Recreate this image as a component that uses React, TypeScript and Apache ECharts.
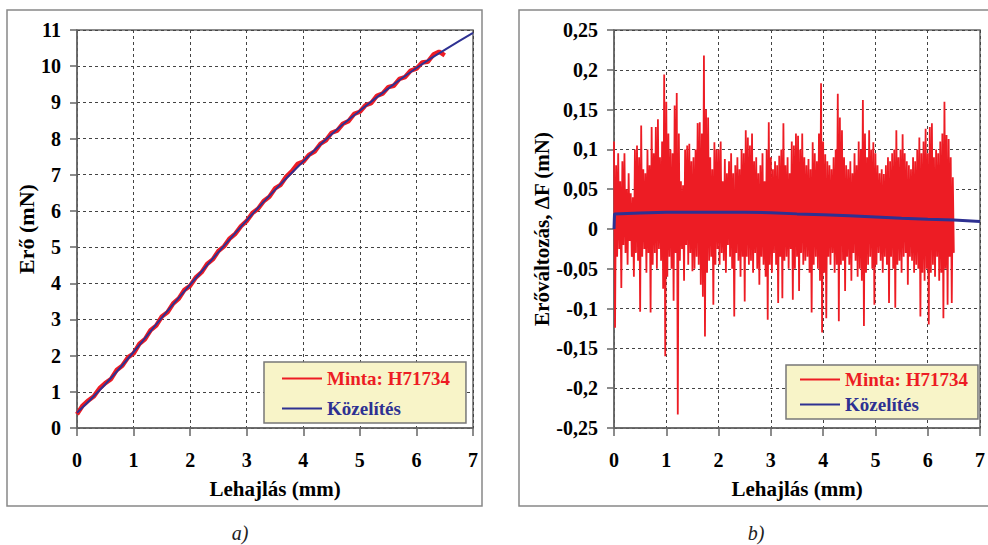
import React, { useEffect, useRef } from "react";
import * as echarts from "echarts";

// ---------- data ----------
const xTicksMax = 7;
const forceStep = 0.1; // mm, sampling of the measured force curve
const forceMeasured = [
  0.38, 0.62, 0.76, 0.88, 1.10, 1.24, 1.35, 1.60, 1.72, 1.95,
  2.06, 2.32, 2.45, 2.70, 2.83, 3.08, 3.20, 3.44, 3.58, 3.82,
  3.93, 4.16, 4.30, 4.53, 4.66, 4.89, 5.02, 5.24, 5.37, 5.58,
  5.72, 5.94, 6.06, 6.27, 6.39, 6.62, 6.72, 6.95, 7.10, 7.30,
  7.36, 7.55, 7.64, 7.85, 7.95, 8.16, 8.22, 8.41, 8.48, 8.68,
  8.74, 8.92, 8.98, 9.18, 9.24, 9.42, 9.46, 9.65, 9.70, 9.88,
  9.93, 10.10, 10.12, 10.32, 10.40, 10.30,
];
const fitX = [0, 0.5, 1, 1.5, 2, 2.5, 3, 3.5, 4, 4.5, 5, 5.5, 6, 6.5, 7];
const fitY = [0.42, 1.21, 2.10, 3.05, 3.96, 4.86, 5.74, 6.58, 7.37, 8.12, 8.77, 9.38, 9.95, 10.45, 10.92];

const residStep = 0.02; // mm
// residuals in thousandths of mN
const residuals = [
  110, -124, 80, -35, 95, -25, 60, -74, 85, -20,
  95, -30, 50, -45, 70, -15, 45, -35, 40, -60,
  100, -30, 105, -40, 90, -104, 130, -35, 75, -25,
  70, -55, 100, -30, 80, -105, 128, -45, 95, -30,
  128, -50, 138, -25, 90, -40, 110, -75, 194, -160,
  160, -60, 120, -35, 100, -50, 95, -90, 155, -30,
  171, -233, 120, -40, 60, -25, 55, -65, 100, -20,
  105, -45, 107, -30, 85, -53, 90, -50, 100, -35,
  133, -45, 134, -70, 120, -85, 218, -135, 150, -55,
  140, -40, 90, -35, 75, -95, 109, -45, 100, -25,
  100, -45, 110, -30, 60, -40, 88, -55, 70, -20,
  85, -35, 95, -50, 70, -110, 80, -30, 90, -40,
  75, -60, 100, -35, 95, -91, 124, -35, 115, -45,
  105, -40, 120, -55, 85, -30, 90, -50, 70, -70,
  80, -35, 95, -45, 60, -60, 100, -114, 134, -45,
  90, -55, 75, -30, 85, -45, 80, -93, 92, -35,
  100, -87, 133, -40, 80, -35, 90, -50, 70, -25,
  110, -89, 105, -50, 120, -35, 117, -78, 100, -30,
  120, -45, 90, -40, 80, -35, 88, -55, 75, -105,
  109, -45, 95, -35, 85, -50, 120, -65, 183, -130,
  110, -55, 94, -112, 85, -35, 80, -45, 75, -30,
  90, -55, 100, -45, 170, -116, 140, -45, 124, -40,
  90, -78, 80, -35, 75, -45, 85, -65, 70, -30,
  95, -40, 80, -60, 110, -50, 100, -65, 162, -122,
  120, -55, 90, -45, 124, -35, 100, -50, 109, -95,
  95, -45, 80, -30, 70, -40, 75, -55, 69, -35,
  80, -45, 90, -93, 85, -35, 95, -50, 100, -99,
  124, -45, 90, -40, 100, -55, 119, -35, 95, -30,
  85, -70, 80, -35, 75, -40, 90, -55, 85, -45,
  100, -50, 115, -110, 95, -55, 110, -65, 126, -50,
  95, -120, 128, -55, 133, -45, 90, -60, 100, -35,
  95, -65, 110, -55, 120, -112, 160, -50, 118, -95,
  113, -35, 90, -93, 65, -30,
];
const residFitX = [0, 0.01, 0.5, 1, 1.5, 2, 2.5, 3, 3.5, 4, 4.5, 5, 5.5, 6, 6.5, 7];
const residFitY = [0, 0.019, 0.020, 0.021, 0.021, 0.021, 0.021, 0.0205, 0.019, 0.0178, 0.0165, 0.015, 0.0135, 0.0122, 0.0112, 0.0093];

const legendLabels: Record<string, string> = {
  a1: "Minta: H71734",
  a2: "Közelítés",
  b1: "Minta: H71734",
  b2: "Közelítés",
};

// ---------- styles ----------
const RED = "#ed1c24";
const BLUE = "#2e3192";
const FONT = "Liberation Serif";
const AX = "#666";

function xAxisCfg(gridIndex: number) {
  return {
    gridIndex,
    type: "value",
    min: 0,
    max: xTicksMax,
    interval: 1,
    name: "Lehajlás (mm)",
    nameLocation: "middle",
    nameGap: 50,
    nameTextStyle: { fontFamily: FONT, fontWeight: "bold", fontSize: 21, color: "#000" },
    axisLine: { show: true, onZero: false, lineStyle: { color: AX, width: 1.5 } },
    axisTick: { show: true, length: 8, lineStyle: { color: AX, width: 1.5 } },
    axisLabel: { margin: 22, fontFamily: FONT, fontWeight: "bold", fontSize: 20, color: "#000" },
    splitLine: { show: true, lineStyle: { color: "#444", type: [3, 3], width: 1 } },
  };
}

export default function App() {
  const ref = useRef<HTMLDivElement>(null);
  useEffect(() => {
    document.body.style.margin = "0";
    const chart = echarts.init(ref.current!, null, { renderer: "svg" });

    const measuredData = forceMeasured.map((v, i) => [+(i * forceStep).toFixed(2), v]);
    const fitData = fitX.map((x, i) => [x, fitY[i]]);
    const residData = residuals.map((v, i) => [+(i * residStep).toFixed(2), v / 1000]);
    const residFitData = residFitX.map((x, i) => [x, residFitY[i]]);

    const legendCommon = {
      orient: "vertical",
      backgroundColor: "#f8f4c8",
      borderColor: "#777",
      borderWidth: 1.5,
      itemWidth: 40,
      itemHeight: 20,
      selectedMode: false,
      itemStyle: { color: "transparent", borderColor: "transparent", borderWidth: 0 },
      formatter: (n: string) => legendLabels[n],
      textStyle: { fontFamily: FONT, fontWeight: "bold", fontSize: 19 },
    };

    const yLabel = { fontFamily: FONT, fontWeight: "bold", fontSize: 20, color: "#000" };

    chart.setOption({
      animation: false,
      backgroundColor: "#fff",
      textStyle: { fontFamily: FONT },
      grid: [
        { left: 77, top: 30, width: 396, height: 398, show: true, borderColor: AX, borderWidth: 1.5 },
        { left: 614, top: 30, width: 373, height: 398, show: true, borderColor: AX, borderWidth: 1.5 },
      ],
      xAxis: [xAxisCfg(0), xAxisCfg(1)],
      yAxis: [
        {
          gridIndex: 0,
          type: "value",
          min: 0,
          max: 11,
          interval: 1,
          name: "Erő (mN)",
          nameLocation: "middle",
          nameGap: 39,
          nameTextStyle: { fontFamily: FONT, fontWeight: "bold", fontSize: 22, color: "#000" },
          axisLine: { show: true, lineStyle: { color: AX, width: 1.5 } },
          axisTick: { show: true, length: 7, lineStyle: { color: AX, width: 1.5 } },
          axisLabel: { ...yLabel, margin: 16 },
          splitLine: { show: true, lineStyle: { color: "#444", type: [3, 3], width: 1 } },
        },
        {
          gridIndex: 1,
          type: "value",
          min: -0.25,
          max: 0.25,
          interval: 0.05,
          name: "Erőváltozás, ΔF (mN)",
          nameLocation: "middle",
          nameGap: 59,
          nameTextStyle: { fontFamily: FONT, fontWeight: "bold", fontSize: 21, color: "#000" },
          axisLine: { show: true, lineStyle: { color: AX, width: 1.5 } },
          axisTick: { show: true, length: 7, lineStyle: { color: AX, width: 1.5 } },
          axisLabel: {
            ...yLabel,
            margin: 16,
            formatter: (v: number) => String(Math.round(v * 100) / 100).replace(".", ","),
          },
          splitLine: { show: true, lineStyle: { color: "#444", type: [3, 3], width: 1 } },
        },
      ],
      legend: [
        {
          ...legendCommon,
          left: 264,
          top: 362,
          padding: [7, 16, 5, 17],
          itemGap: 11,
          data: [
            { name: "a1", textStyle: { color: RED } },
            { name: "a2", textStyle: { color: BLUE } },
          ],
        },
        {
          ...legendCommon,
          left: 786,
          top: 365,
          padding: [5, 10, 5, 13],
          itemGap: 6,
          data: [
            { name: "b1", textStyle: { color: RED } },
            { name: "b2", textStyle: { color: BLUE } },
          ],
        },
      ],
      series: [
        {
          name: "a1",
          type: "line",
          xAxisIndex: 0,
          yAxisIndex: 0,
          data: measuredData,
          symbol: "none",
          lineStyle: { color: RED, width: 4.5 },
          itemStyle: { color: RED },
        },
        {
          name: "a2",
          type: "line",
          xAxisIndex: 0,
          yAxisIndex: 0,
          data: fitData,
          symbol: "none",
          smooth: true,
          lineStyle: { color: BLUE, width: 2 },
          itemStyle: { color: BLUE },
        },
        {
          name: "b1",
          type: "line",
          xAxisIndex: 1,
          yAxisIndex: 1,
          data: residData,
          symbol: "none",
          lineStyle: { color: RED, width: 1.8 },
          itemStyle: { color: RED },
        },
        {
          name: "b2",
          type: "line",
          xAxisIndex: 1,
          yAxisIndex: 1,
          data: residFitData,
          symbol: "none",
          lineStyle: { color: BLUE, width: 3 },
          itemStyle: { color: BLUE },
        },
      ],
      graphic: [
        {
          type: "rect",
          shape: { x: 7, y: 10, width: 475, height: 496 },
          style: { fill: "none", stroke: "#888", lineWidth: 1.5 },
          z: -1,
        },
        {
          type: "rect",
          shape: { x: 519, y: 10, width: 490, height: 496 },
          style: { fill: "none", stroke: "#888", lineWidth: 1.5 },
          z: -1,
        },
        {
          type: "text",
          x: 240,
          y: 533,
          style: {
            text: "a)",
            font: `italic 20px ${FONT}`,
            fill: "#222",
            align: "center",
            verticalAlign: "middle",
          },
        },
        {
          type: "text",
          x: 756,
          y: 533,
          style: {
            text: "b)",
            font: `italic 20px ${FONT}`,
            fill: "#222",
            align: "center",
            verticalAlign: "middle",
          },
        },
      ],
    });
    return () => chart.dispose();
  }, []);
  return <div ref={ref} style={{ width: 988, height: 545 }} />;
}
